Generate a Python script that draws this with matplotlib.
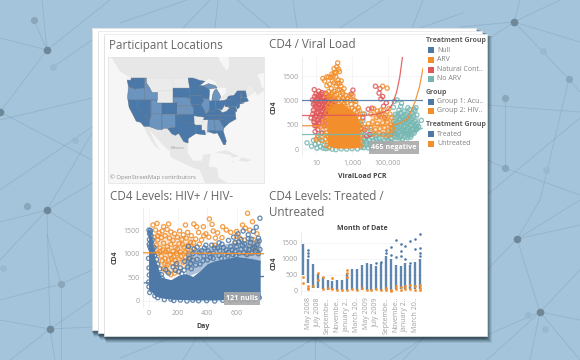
"""Tableau-style CD4 dashboard pasted as a stack of sheets on a network background."""
import numpy as np
import matplotlib
matplotlib.use("Agg")
import matplotlib.pyplot as plt
from matplotlib.patches import Rectangle, Polygon

plt.rcParams["font.family"] = ["Open Sans", "DejaVu Sans"]

BLUE, ORANGE, RED, TEAL = "#4E79A7", "#F28E2B", "#E15759", "#76B7B2"
MAP_DARK, MAP_LIGHT, MAP_NONE = "#4A78A8", "#6B94BE", "#EBEBEB"
LAND, WATER = "#E7E7E7", "#F6F6F6"

# background network, in picture pixels
net_nodes = [(47, 50, "d"), (34, 20, "m"), (53, 67, "f"), (0, 112, "d"), (47, 210, "d"), (27, 206, "m"),
             (75, 140, "f"), (3, 268, "f"), (61, 284, "m"), (50, 329, "d"), (514, 22, "d"), (569, 79, "m"),
             (505, 98, "m"), (505, 168, "m"), (543, 51, "f"), (546, 170, "f"), (517, 239, "d"),
             (540, 312, "d"), (528, 315, "f"), (545, 329, "f")]
net_edges = [((47, 50), (34, 20)), ((47, 50), (0, 112)), ((47, 50), (110, 0)), ((47, 50), (0, 38)), ((47, 50), (42, 0)),
             ((0, 112), (92, 160)), ((47, 210), (92, 133)), ((0, 190), (92, 127)), ((47, 210), (92, 183)),
             ((47, 210), (50, 329)), ((47, 210), (0, 222)), ((47, 210), (0, 260)), ((47, 210), (92, 238)),
             ((50, 329), (0, 320)), ((50, 329), (92, 300)), ((50, 329), (10, 360)), ((50, 329), (55, 360)),
             ((50, 329), (92, 327)), ((61, 284), (0, 300)), ((61, 284), (47, 235)), ((61, 284), (92, 270)),
             ((61, 284), (61, 360)), ((0, 120), (92, 98)), ((53, 67), (92, 40)), ((514, 22), (460, 27)),
             ((514, 22), (580, 42)), ((514, 22), (560, 0)), ((514, 22), (520, 0)), ((514, 22), (569, 79)),
             ((514, 22), (487, 40)), ((569, 79), (580, 92)), ((569, 79), (540, 200)), ((487, 195), (580, 118)),
             ((487, 105), (580, 112)), ((505, 98), (505, 168)), ((505, 168), (487, 160)), ((505, 168), (580, 195)),
             ((517, 239), (540, 312)), ((517, 239), (540, 200)), ((517, 239), (580, 200)), ((517, 239), (580, 225)),
             ((517, 239), (487, 270)), ((540, 312), (580, 270)), ((540, 312), (580, 320)), ((540, 312), (487, 335)),
             ((540, 312), (487, 360)), ((540, 312), (530, 360)), ((540, 312), (580, 360)), ((120, 23), (187, 0)),
             ((183, 28), (210, 0)), ((215, 28), (218, 0)), ((270, 28), (237, 0)), ((297, 28), (293, 0)),
             ((340, 28), (383, 0)), ((412, 28), (423, 0)), ((420, 28), (463, 13)), ((173, 337), (120, 358)),
             ((197, 337), (183, 360)), ((200, 337), (223, 360)), ((315, 338), (277, 360)), ((315, 338), (315, 360)),
             ((315, 338), (350, 360)), ((425, 337), (390, 360)), ((425, 337), (403, 360))]

# sheets: left, top, right, bottom
sheets = [(92, 28, 476, 330), (98, 31, 482, 333), (104, 34, 487, 336)]

# map polygons (lon, lat)
land_outline = [(-140, 72), (-55, 72), (-55, 52), (-66, 50), (-65, 48.5), (-64, 46), (-61, 46), (-66, 43.5), (-67, 45),
                (-70.8, 43), (-70, 41.7), (-74, 40.6), (-75.9, 36.6), (-75.6, 35.3), (-78.6, 33.9), (-81, 32),
                (-81.4, 30.7), (-80, 26.8), (-80.4, 25.2), (-81.2, 25.2), (-82.8, 28), (-84, 30), (-87.6, 30.3),
                (-89.4, 29.2), (-93.8, 29.7), (-97.2, 27.7), (-97.5, 22), (-95, 18.5), (-91, 18.5), (-90.5, 21),
                (-87, 21.5), (-88, 16), (-84, 15.5), (-83.5, 11), (-80, 9), (-78, 5), (-88, 5), (-92, 14.5),
                (-96, 15.8), (-105, 20), (-105.5, 22.5), (-109, 25.5), (-112.5, 29), (-114.8, 31.5), (-112, 26),
                (-110, 23), (-112.5, 25), (-116, 30), (-117.1, 32.5), (-118.5, 34), (-120.6, 34.5), (-122, 36.8),
                (-123.8, 39.5), (-124.3, 42), (-124.7, 48.4), (-123, 49), (-128, 51), (-132, 55), (-134, 58), (-140, 60)]
islands = [[(-85, 22), (-80, 23), (-74.2, 20.2), (-77.5, 19.9), (-78, 21)],
           [(-74.4, 18.5), (-73, 20), (-68.5, 18.7), (-71, 18)],
           [(-78.4, 18.4), (-76.2, 18.2), (-77, 17.8)]]
water_bodies = [[(-92, 46.8), (-88, 48.8), (-84.8, 47.8), (-84.8, 46.5), (-87, 46.5), (-90.4, 46.7)],
                [(-87.8, 42), (-86.5, 41.7), (-86.3, 43.5), (-85, 45.7), (-87, 45.7), (-87.7, 44)],
                [(-84, 46), (-80, 46), (-80, 44.6), (-81.7, 43.3), (-82.5, 43), (-83.5, 44.2)],
                [(-83.4, 41.7), (-79, 42.8), (-79, 42.4), (-81.5, 41.6)],
                [(-79.7, 43.3), (-76.3, 44.1), (-76.2, 43.5), (-79, 43.2)],
                [(-85, 58), (-79, 58), (-78.7, 52), (-80, 51.2), (-82, 53), (-85, 56)]]
states_none = {
    "MT": [(-116, 49), (-104, 49), (-104, 45), (-111, 45), (-111, 44.5), (-113.5, 44.5), (-114.5, 46), (-116, 47.5)],
    "WY": [(-111, 45), (-104, 45), (-104, 41), (-111, 41)],
    "ND": [(-104, 49), (-97.2, 49), (-96.5, 45.9), (-104, 45.9)],
    "AR": [(-94.6, 36.5), (-90.3, 36), (-89.7, 36), (-90.3, 35), (-91.2, 33), (-94, 33), (-94.5, 33.6)],
    "MS": [(-90.3, 35), (-88.2, 35), (-88.4, 30.4), (-89.7, 30.3), (-91, 31), (-91.2, 33)],
    "WV": [(-82.6, 38.4), (-82, 37.6), (-80, 38), (-78.4, 39.3), (-79.5, 39.7), (-80.5, 39.7), (-80.5, 40.6), (-82, 38.6)],
    "ME": [(-71.3, 45), (-70.3, 46.5), (-68.5, 47.3), (-67, 45), (-70.8, 43)],
}
states_light = {
    "OR": [(-124, 46.3), (-123, 46.2), (-121, 45.6), (-119, 45.9), (-117, 46), (-116.9, 44.2), (-117, 42), (-124.3, 42), (-124.5, 43)],
    "ID": [(-117, 49), (-116, 49), (-116, 47.5), (-114.5, 46), (-113.5, 44.5), (-111, 44.5), (-111, 42), (-117, 42), (-116.9, 44.2), (-117, 46)],
    "UT": [(-114, 42), (-111, 42), (-111, 41), (-109, 41), (-109, 37), (-114, 37)],
    "AZ": [(-114, 37), (-109, 37), (-109, 31.3), (-111, 31.3), (-114.8, 32.5), (-114.6, 35), (-114, 36.2)],
    "NM": [(-109, 37), (-103, 37), (-103, 32), (-106.6, 32), (-106.5, 31.8), (-108.2, 31.8), (-109, 31.3)],
    "NE": [(-104, 43), (-98, 43), (-96.5, 42.5), (-95.3, 40), (-102, 40), (-102, 41), (-104, 41)],
    "KS": [(-102, 40), (-95.3, 40), (-94.6, 39), (-94.6, 37), (-102, 37)],
    "IL": [(-90.6, 42.5), (-87.8, 42.5), (-87.5, 41.7), (-87.5, 39), (-88, 37.8), (-89.2, 37), (-90.2, 38.8), (-91.4, 40.4), (-90.2, 41.8)],
    "MI": [(-86.5, 41.7), (-83.5, 41.7), (-82.5, 43), (-83, 44), (-84.5, 45.7), (-85.5, 45), (-86.3, 43.5)],
    "MIU": [(-90.4, 46.6), (-88, 47.3), (-85, 46.7), (-84.2, 46), (-87, 45.7), (-88, 45.5)],
    "AL": [(-88.2, 35), (-85.6, 35), (-85, 32), (-85, 31), (-87.6, 31), (-87.8, 30.3), (-88.4, 30.4)],
    "GA": [(-85.6, 35), (-83.1, 35), (-81, 32), (-81.4, 30.7), (-84.9, 30.7), (-85, 32)],
}
states_dark = {
    "WA": [(-124.7, 48.4), (-123, 48.3), (-122.8, 49), (-117, 49), (-117, 46), (-119, 45.9), (-121, 45.6), (-123, 46.2), (-124, 46.3)],
    "CA": [(-124.3, 42), (-120, 42), (-120, 39), (-114.6, 35), (-114.8, 32.5), (-117.1, 32.5), (-118.5, 34), (-120.6, 34.5), (-122, 36.8), (-123.8, 39.5)],
    "NV": [(-120, 42), (-114, 42), (-114, 36.2), (-114.6, 35), (-120, 39)],
    "CO": [(-109, 41), (-102, 41), (-102, 37), (-109, 37)],
    "TX": [(-103, 36.5), (-100, 36.5), (-100, 34.6), (-97, 33.8), (-94.5, 33.6), (-94, 33), (-93.8, 29.7), (-95, 29), (-97.2, 27.7), (-97.2, 25.9), (-99.2, 26.5), (-101.4, 29.8), (-103, 29), (-104.5, 29.6), (-106.5, 31.8), (-103, 32)],
    "OK": [(-103, 37), (-94.6, 37), (-94.5, 33.6), (-97, 33.8), (-100, 34.6), (-100, 36.5), (-103, 36.5)],
    "SD": [(-104, 45.9), (-96.5, 45.9), (-96.5, 42.5), (-98, 43), (-104, 43)],
    "MN": [(-97.2, 49), (-95, 49), (-92, 48.3), (-89.6, 48), (-92, 46.7), (-92.8, 45.5), (-92.8, 44.7), (-91.2, 43.5), (-96.5, 43.5), (-96.5, 45.9)],
    "IA": [(-96.5, 43.5), (-91.2, 43.5), (-90.2, 41.8), (-91.4, 40.4), (-95.8, 40.6)],
    "MO": [(-95.8, 40.6), (-91.4, 40.4), (-90.2, 38.8), (-89.2, 37), (-89.6, 36), (-90.3, 36), (-94.6, 36.5), (-94.6, 39)],
    "LA": [(-94, 33), (-91.2, 33), (-91, 31), (-89.7, 31), (-89.4, 29.2), (-91.5, 29.4), (-93.8, 29.7)],
    "WI": [(-92, 46.7), (-90.4, 46.6), (-88, 45.5), (-87.5, 45), (-87.8, 42.5), (-90.6, 42.5), (-91.2, 43.5), (-92.8, 44.7), (-92.8, 45.5)],
    "IN": [(-87.5, 41.7), (-85, 41.7), (-84.8, 39.1), (-86, 38), (-88, 37.8), (-87.5, 39)],
    "OH": [(-84.8, 41.7), (-83.5, 41.7), (-80.5, 42), (-80.5, 40.6), (-82, 38.6), (-84.8, 39.1)],
    "KY": [(-89.4, 36.5), (-83.7, 36.6), (-82, 37.6), (-82.6, 38.4), (-84.8, 39.1), (-86, 38), (-88, 37.8), (-89.2, 37)],
    "TN": [(-90.3, 35), (-84.3, 35), (-81.7, 36.6), (-89.5, 36.5)],
    "FL": [(-87.6, 31), (-85, 31), (-84.9, 30.7), (-81.4, 30.7), (-80, 26.8), (-80.4, 25.2), (-81.2, 25.2), (-82.8, 28), (-84, 30), (-85.5, 29.7), (-87.6, 30.3)],
    "SC": [(-83.1, 35), (-81, 35.1), (-78.6, 33.9), (-81, 32)],
    "NC": [(-84.3, 35), (-83.1, 35), (-81, 35.1), (-78.6, 33.9), (-75.6, 35.3), (-75.9, 36.6), (-81.7, 36.6)],
    "VA": [(-83.7, 36.6), (-75.9, 36.6), (-76, 38), (-77.2, 38.4), (-78.4, 39.3), (-80, 38), (-82, 37.6)],
    "PA": [(-80.5, 42), (-79.8, 42.3), (-75.4, 42), (-74.8, 41), (-75.3, 39.8), (-80.5, 39.7)],
    "MD": [(-79.5, 39.7), (-75.7, 39.7), (-75.2, 38.1), (-76.3, 38), (-77.2, 38.4), (-78.4, 39.3)],
    "NY": [(-79.8, 42.3), (-79, 43.3), (-76.5, 43.6), (-75, 45), (-73.4, 45), (-73.5, 41.2), (-72, 41), (-74, 40.6), (-74.8, 41), (-75.4, 42)],
    "NJ": [(-74.8, 41), (-74, 40.8), (-74, 39.6), (-75, 38.9), (-75.3, 39.8)],
    "NE2": [(-73.4, 45), (-71.3, 45), (-70.8, 43), (-73.2, 42.8)],
    "MA": [(-73.3, 42.8), (-70.8, 42.8), (-70, 41.7), (-71.8, 41.3), (-73.5, 41.2)],
}

# CD4 / viral load: log10 of viral load, CD4
vl_teal = [(.5, 130), (.75, 60), (.85, 180), (.95, 100), (1.05, 20), (1.15, 130), (1.25, 50), (1.35, 180), (1.45, 80),
           (1.1, 280), (1.2, 210), (1.3, 330), (1.4, 20), (1.55, 10), (1.7, 25), (1.9, 0), (2.1, -10), (2.4, 5),
           (2.7, 0), (3.0, 10), (3.3, 5), (3.5, 40), (3.9, 25), (4.3, 35), (3.6, 95), (4.0, 85), (4.4, 100), (4.8, 70),
           (3.5, 165), (3.8, 150), (4.2, 170), (4.6, 145), (5.0, 175), (3.7, 225), (4.1, 240), (4.5, 215), (4.9, 235),
           (5.2, 220), (5.5, 245), (5.8, 205), (6.1, 230), (3.5, 295), (3.95, 310), (4.3, 285), (4.7, 305), (5.1, 290),
           (5.35, 320), (5.7, 280), (6.0, 310), (6.3, 295), (3.6, 365), (4.05, 380), (5.0, 355), (5.3, 385), (5.6, 360),
           (5.9, 375), (6.2, 350), (6.5, 385), (3.85, 440), (5.2, 430), (5.5, 455), (5.8, 420), (6.1, 445), (6.4, 425),
           (6.7, 460), (3.5, 505), (5.4, 520), (5.7, 495), (6.0, 525), (6.3, 500), (6.6, 515), (3.6, 580), (5.3, 570),
           (5.6, 600), (5.9, 565), (6.2, 590), (6.5, 570), (6.85, 590), (5.5, 650), (5.8, 665), (6.1, 640), (6.4, 670),
           (3.7, 720), (5.4, 715), (5.7, 735), (6.0, 705), (6.3, 730), (6.6, 700), (5.6, 800), (5.9, 785), (6.2, 810),
           (6.5, 790), (5.3, 860), (5.7, 875), (6.1, 850), (6.55, 850), (5.35, 980), (5.5, 1010), (5.75, 940), (6.45, 820),
           (3.65, 30), (4.1, 20), (4.55, 45), (3.8, 105), (4.2, 75), (4.65, 95), (5.05, 90), (3.65, 200), (3.95, 190),
           (4.35, 200), (4.8, 180), (5.15, 150), (5.35, 260), (5.65, 235), (5.95, 260), (6.25, 245), (5.5, 310), (5.85, 330),
           (6.15, 320), (6.45, 330), (5.45, 395), (5.75, 380), (6.05, 395), (6.35, 400), (6.6, 420), (5.35, 480), (5.65, 455),
           (5.95, 470), (6.25, 480), (6.55, 470), (5.5, 560), (5.8, 545), (6.1, 555), (6.4, 540), (5.65, 620), (5.95, 615),
           (6.3, 625), (5.55, 690), (5.9, 680), (6.2, 695)]
vl_red = [(.72, 640), (.8, 1010), (.85, 800), (.88, 560), (.9, 1220), (.95, 930), (.98, 680), (1.0, 1130), (1.02, 480),
          (1.05, 850), (1.08, 1040), (1.1, 600), (1.12, 760), (1.15, 1190), (1.18, 930), (1.2, 520), (1.22, 1080),
          (1.25, 700), (1.28, 860), (1.3, 1000), (1.33, 1160), (1.36, 610), (1.38, 790), (1.4, 930), (1.43, 1060),
          (1.46, 480), (1.48, 720), (1.5, 880), (1.53, 1000), (1.56, 1140), (1.6, 650), (1.62, 820), (1.66, 960),
          (1.7, 1080), (1.75, 740), (1.78, 900), (1.85, 1010), (1.9, 680), (1.95, 850), (2.05, 980), (1.1, 400),
          (.95, 360), (1.35, 330), (3.05, 1210), (2.95, 1130), (4.3, 1290), (4.5, 1150), (4.55, 1240), (4.7, 1080),
          (4.6, 1030), (4.9, 950), (4.75, 880), (4.1, 840), (3.9, 820), (3.6, 640), (3.5, 420), (3.7, 390), (4.0, 300),
          (3.8, 270), (4.5, 690), (4.8, 650), (.92, 1080), (.98, 880), (1.04, 740), (1.07, 960), (1.13, 1100), (1.16, 840),
          (1.2, 650), (1.24, 980), (1.27, 1120), (1.31, 770), (1.35, 900), (1.39, 1050), (1.42, 680), (1.45, 830),
          (1.49, 980), (1.52, 580), (1.55, 760), (1.58, 900), (1.63, 1040), (1.68, 730), (1.72, 850), (1.82, 780),
          (1.88, 930), (2.0, 780), (.82, 720), (.85, 920), (.9, 620), (1.0, 1000), (.93, 480), (1.15, 540)]
vl_orange = [(2.2, 1770), (2.15, 1690), (2.0, 1650), (2.25, 1640), (2.3, 1590), (2.12, 1570), (1.95, 1500), (1.7, 1480),
             (1.6, 1480), (1.38, 1450), (1.82, 1470), (2.1, 1480), (2.22, 1420), (1.9, 1400), (2.0, 1360), (1.75, 1330),
             (2.3, 1350), (1.6, 1300), (2.12, 1300), (1.85, 1240), (2.0, 1190), (1.7, 1180), (2.3, 1220), (2.45, 1180),
             (1.55, 1120), (2.15, 1120), (1.8, 1080), (2.35, 1080), (2.5, 1050), (2.6, 1000), (2.85, 1100), (3.05, 1100),
             (3.1, 1000), (2.95, 920), (3.2, 900), (3.35, 850), (3.3, 760), (2.0, 950), (2.3, 930), (2.6, 880), (2.8, 830),
             (1.9, 860), (2.15, 870), (1.0, 200), (1.1, 240), (1.3, 180), (1.25, 450), (1.4, 540), (1.5, 600), (1.6, 750),
             (1.7, 900), (1.55, 420), (1.45, 300), (1.65, 150), (1.6, 80), (1.75, 50), (1.85, 720), (1.75, 620), (1.7, 250),
             (3.4, 480), (3.5, 260), (3.6, 720), (4.7, 1290), (4.95, 1250), (4.4, 780), (4.6, 800), (4.2, 830), (4.05, 720),
             (4.35, 650), (4.6, 660), (4.85, 700), (5.1, 720), (5.2, 640), (4.15, 560), (4.4, 520), (4.7, 540), (4.95, 560),
             (5.15, 500), (5.25, 420), (4.05, 430), (4.3, 400), (4.55, 420), (4.8, 440), (5.0, 390), (4.2, 310), (4.5, 320),
             (4.75, 300), (5.0, 280), (5.2, 310), (3.9, 520), (3.75, 430), (4.9, 620), (4.5, 720), (4.75, 790), (5.05, 830),
             (1.85, 1120), (1.95, 1040), (2.05, 1100), (2.25, 1040), (2.42, 980), (1.8, 960), (2.1, 1000), (2.55, 940), (2.72, 960),
             (2.9, 1000), (3.0, 840), (3.12, 800), (3.25, 690), (3.4, 640), (3.48, 560), (3.5, 400), (3.52, 130), (3.45, 70),
             (1.68, 830), (1.6, 640), (1.55, 530), (1.58, 330), (1.52, 200), (1.62, 270), (1.72, 430), (1.8, 820), (1.9, 1160),
             (2.2, 1210), (2.38, 1290), (2.18, 1350), (1.72, 1060), (2.65, 1100), (2.75, 1040), (2.5, 1140), (3.4, 790),
             (3.2, 980), (2.55, 1240), (2.4, 1400), (1.88, 1540), (2.02, 1570), (1.48, 1400)]
core_vl = [1.62, 1.78, 2.0, 2.3, 2.6, 2.9, 3.2, 3.45]
core_high = [720, 870, 920, 950, 900, 820, 720, 540]
core_low = [110, 60, 30, 20, 20, 20, 30, 50]
# dense parts of the clouds, where single rings no longer read
haze_red = ([.75, 1.1, 1.5, 1.9, 2.1], [520, 440, 420, 600, 700], [1050, 1200, 1220, 1080, 1000])
haze_teal = ([5.2, 5.6, 6.0, 6.4, 6.75], [180, 180, 200, 280, 400], [720, 820, 830, 800, 600])
haze_teal2 = ([3.45, 4.2, 5.2], [20, 20, 180], [330, 330, 330])
haze_orange = ([4.0, 4.5, 5.0, 5.3], [300, 290, 280, 350], [780, 800, 760, 650])
trend_blue = ([.22, 6.94], [1000, 1000])
trend_red = ([.22, 3, 4, 4.5, 5, 5.25, 5.48, 5.65, 5.8], [690, 695, 700, 725, 800, 930, 1176, 1480, 1890])
trend_orange = ([.22, 3, 5.3, 5.7, 6.1, 6.5, 6.75, 6.94], [480, 485, 490, 540, 630, 970, 1290, 1660])
trend_teal = ([.22, 3, 5.5, 6.3, 6.94], [300, 300, 310, 350, 430])

# CD4 levels by day
day_orange = [(27, 1606), (55, 1640), (134, 1628), (100, 1570), (250, 1606), (307, 1628), (327, 1570), (373, 1570), (414, 1734),
              (432, 1620), (675, 1854), (709, 1677), (641, 1606), (505, 1570), (45, 1500), (70, 1440), (90, 1480), (125, 1510),
              (150, 1460), (175, 1420), (210, 1480), (235, 1400), (265, 1450), (290, 1380), (340, 1450), (390, 1420), (440, 1480),
              (470, 1440), (530, 1500), (560, 1450), (600, 1470), (660, 1540), (690, 1500), (740, 1420), (35, 1350), (60, 1290),
              (85, 1340), (110, 1380), (140, 1330), (165, 1280), (195, 1350), (225, 1300), (255, 1330), (285, 1240), (320, 1310),
              (360, 1290), (410, 1350), (500, 1340), (620, 1330), (715, 1300), (50, 1180), (75, 1120), (100, 1220), (125, 1150),
              (150, 1200), (180, 1130), (205, 1210), (240, 1140), (270, 1180), (300, 1120), (345, 1200), (450, 1180), (590, 1220),
              (690, 1160), (60, 1010), (85, 950), (115, 1040), (145, 980), (170, 930), (190, 1000), (220, 940), (250, 1030),
              (280, 900), (680, 1000), (740, 1050), (90, 850), (110, 780), (135, 870), (160, 800), (185, 760), (205, 890),
              (235, 820), (100, 680), (125, 620), (150, 560), (175, 590), (60, 1380), (720, 1130), (75, 1050), (130, 1080),
              (165, 1050), (195, 1100), (215, 1040), (265, 1090), (155, 900), (180, 860), (125, 760), (230, 1190), (95, 1080),
              (110, 900), (250, 920), (305, 1230), (375, 1380), (455, 1330), (600, 1370), (655, 1290), (740, 1250)]
day_blue = [(0, 1500), (8, 1450), (14, 1380), (3, 1300), (16, 1240), (6, 1150), (25, 1100), (30, 1020), (38, 960), (52, 880),
            (60, 780), (75, 680), (85, 560), (20, 230), (5, 180), (40, 110), (60, 70), (105, 30), (170, 10), (260, 0), (340, 5),
            (450, 0), (560, 10), (640, 20), (720, 30), (115, 660), (135, 590), (165, 720), (190, 790), (215, 700), (245, 840),
            (275, 900), (300, 1000), (270, 1150), (310, 1100), (345, 1020), (375, 950), (405, 1060), (440, 1010), (470, 1120),
            (500, 1200), (530, 1080), (560, 1150), (590, 1050), (615, 1250), (640, 1180), (665, 1100), (695, 1230), (725, 1150),
            (755, 1270), (580, 1350), (610, 1420), (645, 1480), (680, 1400), (715, 1470), (735, 1560), (760, 1750), (545, 1280),
            (430, 1180), (380, 1120), (330, 880), (285, 790), (205, 620), (240, 650), (350, 780), (420, 920), (480, 960),
            (520, 990), (575, 980), (620, 1010), (670, 980), (705, 1010), (750, 1000), (330, 1140), (360, 1060), (390, 1180),
            (415, 1000), (450, 1120), (485, 1060), (510, 1130), (545, 1030), (570, 1080), (600, 1150), (630, 1090), (655, 1210),
            (685, 1090), (710, 1120), (740, 1190), (760, 1090), (300, 860), (320, 760), (265, 720), (180, 650), (225, 580),
            (290, 680), (370, 850), (400, 870), (440, 900), (495, 900), (540, 950), (595, 960), (650, 1020), (730, 1040),
            (680, 1320), (630, 1300), (590, 1240), (750, 1330), (700, 1310), (480, 1230), (22, 1290), (12, 1100), (35, 1130),
            (10, 1490), (4, 1420), (2, 1200), (-2, 400), (0, 300), (2, 550), (0, 700), (-3, 900), (48, 720), (68, 560),
            (90, 480), (150, 40), (215, 20), (300, 15), (395, 8), (505, 15), (600, 25), (680, 30), (755, 70)]
band_day = [-3, 20, 40, 80, 150, 200, 250, 300, 350, 400, 450, 500, 600, 700, 762]
band_high = [1480, 1350, 900, 510, 450, 540, 580, 520, 640, 790, 850, 880, 940, 900, 860]
band_low = [250, 200, 110, 70, 40, 30, 30, 20, 20, 20, 20, 25, 40, 40, 60]
day_haze_blue = ([250, 400, 600, 762], [500, 700, 850, 800], [1050, 1150, 1250, 1300])
day_haze_orange = ([30, 100, 200, 300], [800, 600, 600, 800], [1400, 1450, 1400, 1350])
day_trend_blue = ([-41, 788], [380, 520])
day_trend_orange = ([-41, 788], [1019, 1000])

# CD4 levels by month, Apr 2008 .. Apr 2010
month_low = [500, 250, 100, 100, 50, 30, 30, 30, 30, 40, 30, 30, 30, 30, 30, 30, 30, 30, 20, 50, 50, 50, 50, 50, 50]
month_high = [1480, 1000, 850, 520, 450, 330, 320, 350, 350, 550, 680, 700, 820, 870, 850, 770, 870, 1100, 1000, 800, 780, 870, 800, 900, 1000]
month_blue_x = [1, 1, 1, 15, 16, 17, 17, 18, 18, 19, 19, 20, 20, 20, 21, 21, 22, 22, 23, 23, 24, 24, 24, 24]
month_blue_y = [1290, 1200, 1100, 870, 900, 1267, 1200, 1360, 1120, 1580, 1050, 1480, 1250, 1100, 1415, 1000, 1552, 870, 1626, 1300, 1763, 1330, 1200, 1100]
month_orange_x = [0, 0, 1, 1, 1, 2, 3, 3, 4, 4, 5, 6, 6, 7, 8, 9, 9, 9, 9, 10, 11, 12, 13, 14, 15, 16, 17, 17, 18, 18,
                  19, 19, 20, 20, 21, 21, 22, 22, 23, 23, 24, 24, 24]
month_orange_y = [450, 250, 150, 100, 50, 150, 560, 350, 450, 60, 100, 420, 60, 20, 30, 650, 550, 430, 40, 60, 40, 100, 40, 20, 50,
                  30, 100, 20, 40, 0, 160, 60, 130, 30, 170, 60, 200, 70, 150, 40, 190, 100, 30]
month_ticks = [1, 3, 5, 7, 9, 11, 13, 15, 17, 19, 21, 23]
month_labels = ["May 2008", "July 2008", "Septembe..", "Novembe..", "January 2..", "March 20..",
                "May 2009", "July 2009", "Septembe..", "Novembe..", "January 2..", "March 20.."]

legend_rows = [(40, "Treatment Group", None), (50, "Null", BLUE), (59.5, "ARV", ORANGE), (69.5, "Natural Cont..", RED),
               (79, "No ARV", TEAL), (92, "Group", None), (101.7, "Group 1: Acu..", BLUE), (111, "Group 2: HIV..", ORANGE),
               (124, "Treatment Group", None), (134, "Treated", BLUE), (143.5, "Untreated", ORANGE)]


def panel(fig, l, t, r, b):
    ax = fig.add_axes([l / 580, 1 - b / 360, (r - l) / 580, (b - t) / 360], zorder=2)
    ax.patch.set_alpha(0)
    for s in ax.spines.values():
        s.set_visible(False)
    ax.spines["left"].set_visible(True)
    ax.spines["left"].set_color("#EAEAEA")
    ax.spines["left"].set_linewidth(.6)
    ax.grid(True, color="#F1F1F1", lw=.5)
    ax.set_axisbelow(True)
    ax.tick_params(length=0, labelsize=5.0, labelcolor="#A0A0A0", pad=2.5)
    return ax


def rings(ax, pts, color, z, log=False):
    x, y = zip(*pts)
    x = 10.0 ** np.array(x) if log else np.array(x)
    ax.scatter(x, y, s=9, facecolors="none", edgecolors=color, linewidths=.95, alpha=.85, zorder=z, clip_on=False)


def haze(ax, band, color, z, alpha, log=False):
    x, lo, hi = band
    x = 10.0 ** np.array(x) if log else x
    ax.fill_between(x, lo, hi, color=color, lw=0, alpha=alpha, zorder=z)


def merc(lat):
    return np.degrees(np.log(np.tan(np.radians(45 + np.asarray(lat) / 2))))


def draw_poly(ax, pts, fc, ec="none", lw=0, z=1):
    pts = np.array(pts, float)
    pts[:, 1] = merc(pts[:, 1])
    ax.add_patch(Polygon(pts, closed=True, fc=fc, ec=ec, lw=lw, zorder=z))


def main():
    fig = plt.figure(figsize=(5.8, 3.6), dpi=100, facecolor="#A3C4DA")
    bg = fig.add_axes([0, 0, 1, 1], zorder=0)
    bg.set_xlim(0, 580); bg.set_ylim(360, 0); bg.axis("off")

    for (a, b) in net_edges:
        bg.plot([a[0], b[0]], [a[1], b[1]], color="#7E9FB6", lw=.6, alpha=.45, zorder=1)
    node_style = {"d": ("#6E8899", 3.8), "m": ("#89A6BA", 3.6), "f": ("#98BACF", 3.4)}
    for x, y, k in net_nodes:
        c, r = node_style[k]
        bg.scatter([x], [y], s=(2 * r * .72) ** 2, color=c, lw=0, zorder=2)

    # sheets with a soft drop shadow
    for l, t, r, b in sheets:
        for d, al in ((6, .10), (5, .14), (4, .18), (3, .22), (2, .28)):
            bg.add_patch(Rectangle((l + d * .5 - 1, t + 2), r - l + d * .5, b - t + d - 1, fc="#1E3240", ec="none", alpha=al, zorder=3))
        bg.add_patch(Rectangle((l, t), r - l, b - t, fc="white", ec="#E4E4E4", lw=.5, zorder=3))

    title_kw = dict(fontsize=8.4, color="#666666", va="center", ha="left", zorder=4)
    bg.text(109, 45, "Participant Locations", **title_kw)
    bg.text(269, 45, "CD4 / Viral Load", **title_kw)
    bg.text(110, 196, "CD4 Levels: HIV+ / HIV-", **title_kw)
    bg.text(269, 196, "CD4 Levels: Treated /", **title_kw)
    bg.text(269, 212, "Untreated", **title_kw)

    for y, label, c in legend_rows:
        if c is None:
            bg.text(426, y, label, fontsize=5.0, fontweight="bold", color="#606060", va="center", ha="left", zorder=4)
        else:
            bg.add_patch(Rectangle((428, y - 3), 6, 6, fc=c, ec="none", zorder=4))
            bg.text(437, y, label, fontsize=5.0, color="#808080", va="center", ha="left", zorder=4)

    # map
    m = fig.add_axes([108 / 580, 1 - 183 / 360, 156 / 580, 126 / 360], zorder=2)
    m.set_xlim(-133.3, -63); m.set_ylim(8.7, 65.9)
    m.set_xticks([]); m.set_yticks([]); m.set_facecolor(WATER)
    for s in m.spines.values():
        s.set_color("#E2E2E2"); s.set_linewidth(.5)
    draw_poly(m, land_outline, LAND)
    for p in islands:
        draw_poly(m, p, LAND)
    for pts in states_none.values():
        draw_poly(m, pts, MAP_NONE, ec="#DEDEDE", lw=.3, z=2)
    for pts in water_bodies:
        draw_poly(m, pts, WATER, z=3)
    for pts in states_light.values():
        draw_poly(m, pts, MAP_LIGHT, ec="#5F7389", lw=.3, z=4)
    for pts in states_dark.values():
        draw_poly(m, pts, MAP_DARK, ec="#5F7389", lw=.3, z=4)
    m.text(-99, merc(39.9), "United", fontsize=3.6, color="#7E95AE", ha="center", va="center", zorder=5)
    m.text(-99, merc(37.9), "States", fontsize=3.6, color="#7E95AE", ha="center", va="center", zorder=5)
    m.text(-102, merc(24), "Mexico", fontsize=3.0, color="#9A9A9A", ha="center", va="center", zorder=5)
    m.text(-132.2, 11.5, "© OpenStreetMap contributors", fontsize=4.2, color="#909090", ha="left", va="center", zorder=5)

    # CD4 / viral load
    a = panel(fig, 302, 57, 423, 155)
    a.set_xscale("log")
    a.set_xlim(10 ** .22, 10 ** 6.94); a.set_ylim(-120, 1890)
    haze(a, haze_teal, TEAL, 2, .45, log=True)
    haze(a, haze_teal2, TEAL, 2, .35, log=True)
    rings(a, vl_teal, TEAL, 3, log=True)
    haze(a, haze_red, RED, 3, .4, log=True)
    rings(a, vl_red, RED, 4, log=True)
    haze(a, haze_orange, ORANGE, 4, .3, log=True)
    rings(a, vl_orange, ORANGE, 5, log=True)
    a.fill_between(10.0 ** np.array(core_vl), core_low, core_high, color=ORANGE, lw=0, zorder=5)
    for (x, y), c in ((trend_blue, BLUE), (trend_red, RED), (trend_orange, ORANGE), (trend_teal, TEAL)):
        a.plot(10.0 ** np.array(x), y, color=c, lw=.9, zorder=6, alpha=.9)
    a.set_xticks([10, 1000, 100000], ["10", "1,000", "100,000"])
    a.minorticks_off()
    a.set_yticks([0, 500, 1000, 1500])
    a.tick_params(axis="x", pad=3.5)
    fig.text(394 / 580, 1 - 147.5 / 360, "465 negative", fontsize=5.2, fontweight="bold", color="white", ha="center", va="center", zorder=8,
             bbox=dict(boxstyle="square,pad=.35", fc="#A9A9A9", ec="none", alpha=.9))

    # CD4 by day
    d = panel(fig, 143, 208, 264, 307)
    d.set_xlim(-41, 788); d.set_ylim(-127, 1966)
    d.plot(*day_trend_blue, color=BLUE, lw=.9, zorder=2)
    haze(d, day_haze_orange, ORANGE, 2, .25)
    rings(d, day_orange, ORANGE, 3)
    haze(d, day_haze_blue, BLUE, 3, .45)
    rings(d, day_blue, BLUE, 4)
    d.fill_between(band_day, band_low, band_high, color=BLUE, lw=0, zorder=4)
    d.plot(*day_trend_orange, color=ORANGE, lw=.9, zorder=5)
    d.set_xticks([0, 200, 400, 600]); d.set_yticks([0, 500, 1000, 1500])
    fig.text(242 / 580, 1 - 298.5 / 360, "121 nulls", fontsize=5.2, fontweight="bold", color="white", ha="center", va="center", zorder=8,
             bbox=dict(boxstyle="square,pad=.35", fc="#A9A9A9", ec="none", alpha=.9))

    # CD4 by month
    e = panel(fig, 301, 232, 423, 295)
    e.set_xlim(-.47, 24.6); e.set_ylim(-125, 1840)
    e.vlines(np.arange(len(month_low)), month_low, month_high, color=BLUE, lw=1.7, alpha=.9, zorder=3)
    e.scatter(month_blue_x, month_blue_y, s=3.5, color=BLUE, lw=0, zorder=3)
    e.scatter(month_orange_x, month_orange_y, s=4, color=ORANGE, lw=0, zorder=4)
    e.set_xticks(month_ticks, month_labels, rotation=90)
    e.set_yticks([0, 500, 1000, 1500])
    e.grid(False, axis="x")
    e.tick_params(axis="x", pad=1.5)

    lab = dict(fontsize=5.0, fontweight="bold", color="#444444", ha="center", va="center", zorder=4)
    bg.text(274, 107, "CD4", rotation=90, **lab)
    bg.text(115, 257, "CD4", rotation=90, **lab)
    bg.text(274, 263, "CD4", rotation=90, **lab)
    bg.text(362, 176, "ViralLoad PCR", **lab)
    bg.text(203, 327, "Day", **lab)
    bg.text(362, 228, "Month of Date", **lab)

    fig.savefig("out.png", dpi=100, facecolor=fig.get_facecolor())


if __name__ == "__main__":
    main()
